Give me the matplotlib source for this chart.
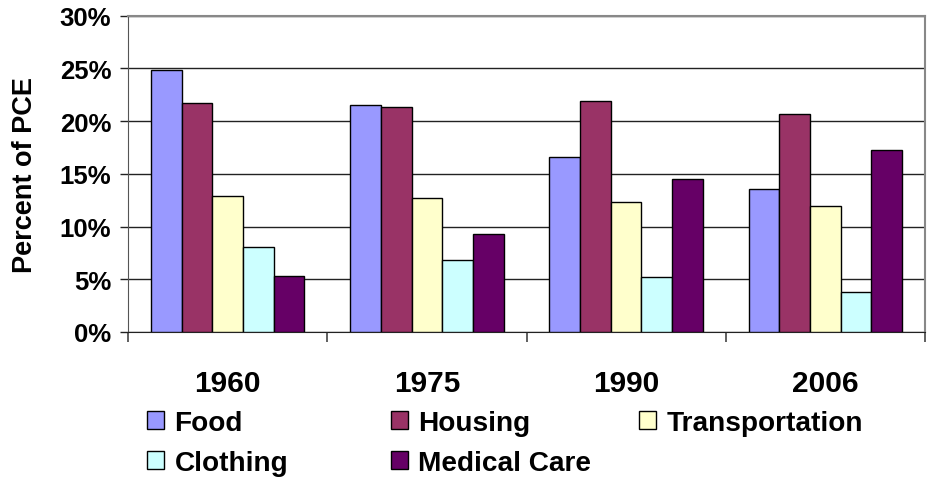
import numpy as np
import matplotlib
matplotlib.use("Agg")
import matplotlib.pyplot as plt
from matplotlib.patches import Patch
from matplotlib.ticker import FuncFormatter

years = ["1960", "1975", "1990", "2006"]
series = ["Food", "Housing", "Transportation", "Clothing", "Medical Care"]
colors = ["#9999FF", "#993366", "#FFFFCC", "#CCFFFF", "#660066"]

food = [24.8, 21.5, 16.55, 13.6]
housing = [21.75, 21.3, 21.85, 20.65]
transportation = [12.9, 12.7, 12.3, 11.9]
clothing = [8.1, 6.8, 5.25, 3.8]
medical = [5.35, 9.25, 14.5, 17.25]
values = [food, housing, transportation, clothing, medical]

plt.rcParams['font.family'] = ['Liberation Sans', 'DejaVu Sans']
plt.rcParams['font.weight'] = 'bold'

fig = plt.figure(figsize=(9.35, 4.81), dpi=100)
ax = fig.add_axes([128 / 935, 1 - 333 / 481, 797 / 935, 316.5 / 481])

x = np.arange(len(years))
w = 0.154
for i, (vals, c) in enumerate(zip(values, colors)):
    ax.bar(x - 2.5 * w + (i + 0.5) * w, vals, w, color=c, edgecolor="black",
           linewidth=1.0, zorder=3)

ax.set_xlim(-0.5, len(years) - 0.5)
ax.set_ylim(0, 30)
ax.set_yticks(range(0, 31, 5))
ax.yaxis.set_major_formatter(FuncFormatter(lambda v, p: f"{v:.0f}%"))
ax.grid(axis="y", color="#222222", linewidth=1.0, zorder=0)

# category ticks between groups, labels centred
ax.set_xticks(x)
ax.set_xticklabels(years, fontsize=21.5, fontweight="bold")
ax.set_xticks(np.arange(-0.5, len(years)), minor=True)
ax.tick_params(axis="x", which="major", length=0, pad=27)
ax.tick_params(axis="x", which="minor", length=7, width=1.2, color="#444444", direction="out")
ax.tick_params(axis="y", length=6, width=1.0, color="#222222", pad=6, labelsize=18.5)
for lab in ax.get_yticklabels():
    lab.set_fontweight("bold")

ax.set_ylabel("Percent of PCE", fontsize=19.5, fontweight="bold")
ax.yaxis.set_label_coords(-90 / 797, 0.5)

ax.spines["top"].set_color("#888888")
ax.spines["right"].set_color("#888888")
ax.spines["top"].set_linewidth(1.5)
ax.spines["right"].set_linewidth(1.5)
ax.spines["left"].set_color("#555555")
ax.spines["bottom"].set_color("#222222")

handles = [Patch(facecolor=c, edgecolor="black", linewidth=1.0) for c in colors]
col_items = [[0, 3], [1, 4], [2]]
col_x = [147 / 935, 391 / 935, 639 / 935]
for xs, items in zip(col_x, col_items):
    fig.legend([handles[i] for i in items], [series[i] for i in items],
               loc="upper left", bbox_to_anchor=(xs, 1 - 411 / 481),
               frameon=False, handlelength=0.62, handleheight=0.62,
               handletextpad=0.36, labelspacing=0.5, borderaxespad=0,
               borderpad=0, prop={"weight": "bold", "size": 20.2})

fig.savefig("out.png", dpi=100)
